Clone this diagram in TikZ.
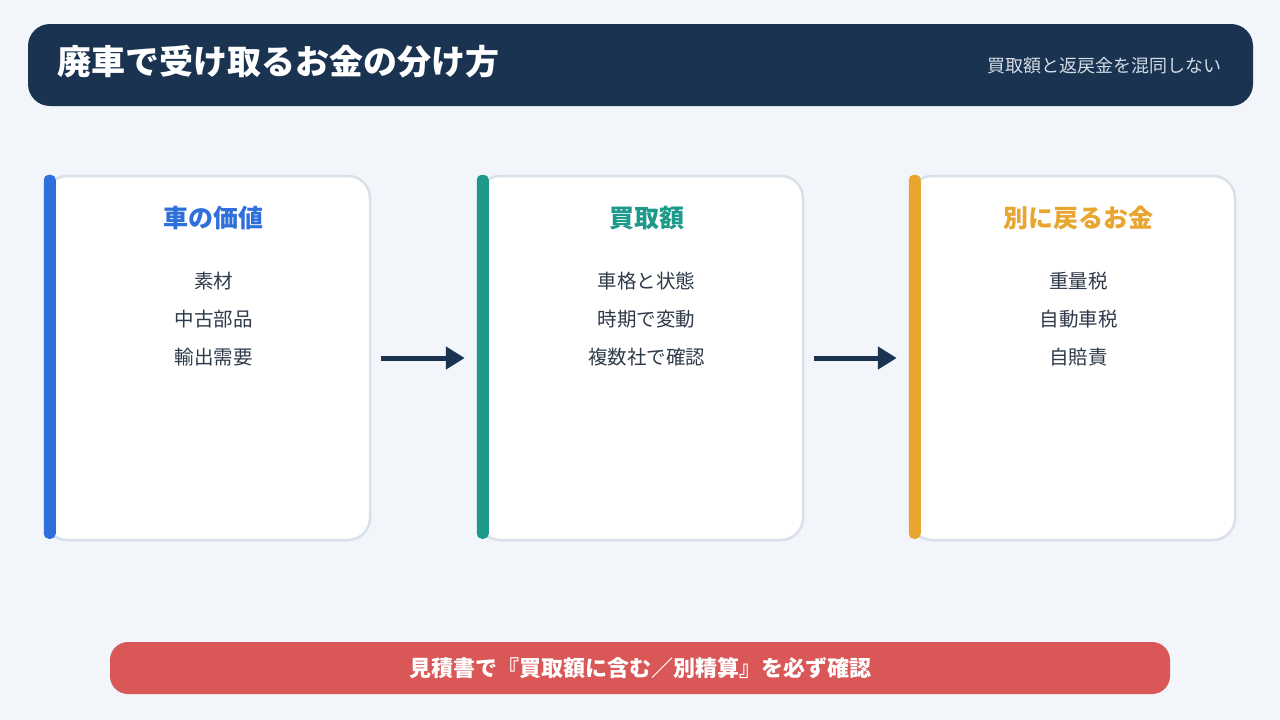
\documentclass[tikz,border=0pt]{standalone}
\usepackage{fontspec}
\setmainfont{Noto Sans CJK JP}
\usetikzlibrary{arrows.meta, positioning, calc}
\definecolor{Canvas}{HTML}{F2F5FA}
\definecolor{Navy}{HTML}{1A3350}
\definecolor{Sub}{HTML}{D3DBE6}
\definecolor{Line}{HTML}{D8E0EA}
\definecolor{Text}{HTML}{2E3A4A}
\definecolor{Blue}{HTML}{2F6FDB}
\definecolor{Teal}{HTML}{1E9A8A}
\definecolor{Amber}{HTML}{E8A530}
\definecolor{Coral}{HTML}{D95757}

\begin{document}
\begin{tikzpicture}[
  x=1pt, y=-1pt,
  card/.style={
    rounded corners=22pt,
    draw=Line,
    line width=2.5pt,
    fill=white,
    minimum width=325pt,
    minimum height=364pt
  },
  cardtitle/.style={
    font=\fontsize{25}{28}\selectfont\bfseries,
    inner sep=0pt
  },
  items/.style={
    font=\fontsize{19.5}{38}\selectfont,
    text=Text,
    align=center,
    inner sep=0pt,
    anchor=north
  },
  flow/.style={
    -{Triangle[length=19pt,width=22pt]},
    line width=5pt,
    draw=Navy,
    shorten <=10pt,
    shorten >=12pt
  }
]

\useasboundingbox (0,0) rectangle (1280,720);
\fill[Canvas] (0,0) rectangle (1280,720);

% header
\fill[Navy, rounded corners=22pt] (28,24) rectangle (1253,106);
\node[anchor=west, text=white, font=\fontsize{34}{38}\selectfont\bfseries, inner sep=0pt]
  (title) at (57,62) {廃車で受け取るお金の分け方};
\node[anchor=east, text=Sub, font=\fontsize{18}{20}\selectfont, inner sep=0pt]
  (subtitle) at (1222,66) {買取額と返戻金を混同しない};

% cards
\node[card] (value) at (207.5,358) {};
\node[card] (buy) at (640.5,358) {};
\node[card] (refund) at (1072.5,358) {};

\fill[Blue, rounded corners=5pt] (value.north west) rectangle ++(12,364);
\fill[Teal, rounded corners=5pt] (buy.north west) rectangle ++(12,364);
\fill[Amber, rounded corners=5pt] (refund.north west) rectangle ++(12,364);

\node[cardtitle, text=Blue] (valuet) at ($(value.north)+(6,43)$) {車の価値};
\node[cardtitle, text=Teal] (buyt) at ($(buy.north)+(6,43)$) {買取額};
\node[cardtitle, text=Amber] (refundt) at ($(refund.north)+(6,43)$) {別に戻るお金};

\node[items] at ($(valuet.south)+(0,42)$) {素材\\中古部品\\輸出需要};
\node[items] at ($(buyt.south)+(0,42)$) {車格と状態\\時期で変動\\複数社で確認};
\node[items] at ($(refundt.south)+(0,42)$) {重量税\\自動車税\\自賠責};

\draw[flow] (value.east) -- (buy.west);
\draw[flow] (buy.east) -- (refund.west);

% bottom note
\node[fill=Coral, rounded corners=18pt, minimum width=1060pt, minimum height=52pt,
  text=white, font=\fontsize{22}{24}\selectfont\bfseries] (note) at (640,668)
  {見積書で『買取額に含む／別精算』を必ず確認};

\end{tikzpicture}
\end{document}
